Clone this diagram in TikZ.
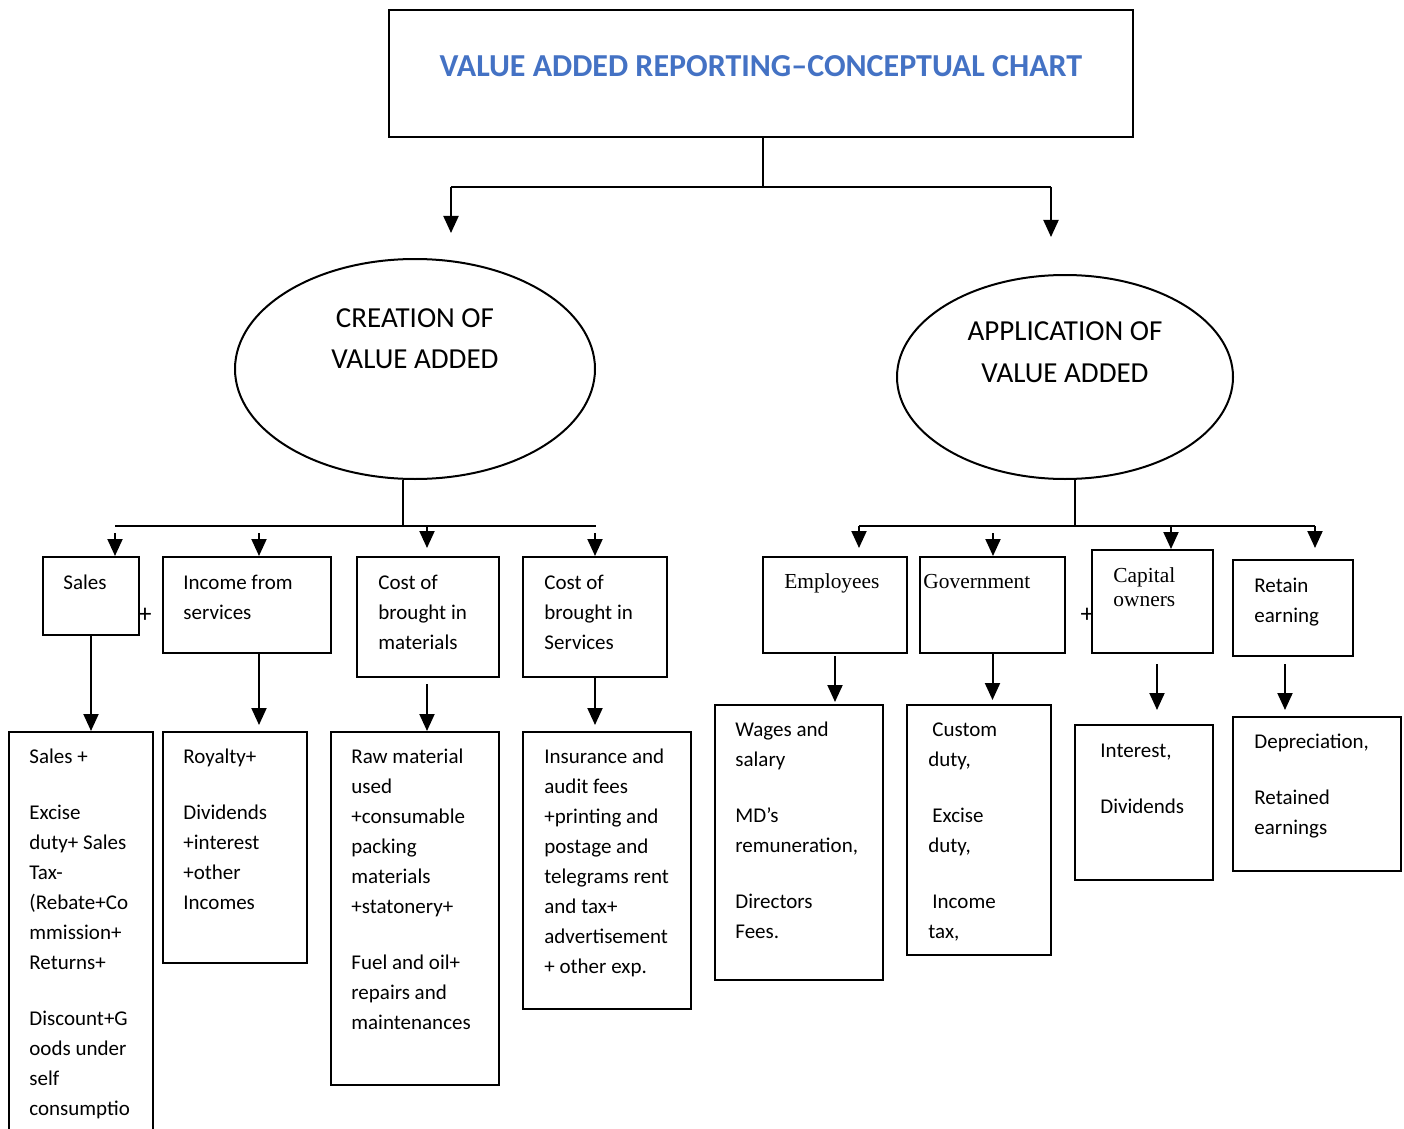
\documentclass[tikz,border=0pt]{standalone}
\usepackage{fontspec}
\setmainfont{Carlito}
\newfontfamily\serifT{Liberation Serif}
\usetikzlibrary{shapes.geometric,arrows.meta,fit}
\definecolor{titleblue}{HTML}{4472C4}
\tikzset{
  bx/.style={draw, line width=1pt, inner sep=0pt, fit={#1}},
  ell/.style={draw, ellipse, line width=1pt, inner sep=0pt},
  ln/.style={line width=1pt},
  arr/.style={line width=1pt, -{Triangle[length=8.5pt,width=7.5pt]}},
  txt/.style={anchor=base west, inner sep=0pt, align=left, font=\fontsize{10.5}{15}\selectfont},
  srf/.style={anchor=base west, inner sep=0pt, align=left, font=\serifT\fontsize{10.7}{12.3}\selectfont},
  big/.style={anchor=base, inner sep=0pt, align=center, font=\fontsize{14.5}{20.5}\selectfont},
  pl/.style={inner sep=0pt, font=\fontsize{13}{14}\selectfont}
}
\begin{document}
\begin{tikzpicture}[x=0.5pt,y=-0.5pt]
\useasboundingbox (0,0) rectangle (1404,1129);

% title
\node[bx={(389,10)(1133,137)}, line width=1.2pt] (title) {};
\node[anchor=base, inner sep=0pt, font=\bfseries\fontsize{16}{19}\selectfont, text=titleblue] (titleT) at (761,77) {VALUE ADDED REPORTING–CONCEPTUAL CHART};

\coordinate (tj) at (763,187);
\coordinate (bl) at (451,187);
\coordinate (br) at (1051,187);
\coordinate (blE) at (451,233);
\coordinate (brE) at (1051,237);
\draw[ln] (title.south -| tj) -- (tj);
\draw[ln] (bl) -- (br);
\draw[arr] (bl) -- (blE);
\draw[arr] (br) -- (brE);

% ellipses
\node[ell, minimum width=180pt, minimum height=110pt] (cre) at (415,369) {};
\node[big] (creT) at (415,368) {CREATION OF\\VALUE ADDED};
\node[ell, minimum width=168pt, minimum height=102pt] (app) at (1065,377) {};
\node[big, font=\fontsize{14.5}{21}\selectfont] (appT) at (1065,382) {APPLICATION OF\\VALUE ADDED};

% left tree
\coordinate (lj) at (403,526);
\coordinate (lb1) at (115,526);
\coordinate (lb4) at (596,526);
\coordinate (t1) at (115,533);
\coordinate (t2) at (259,533);
\coordinate (t3) at (427,526);
\coordinate (t4) at (595,533);
\draw[ln] (cre.south -| lj) -- (lj);
\draw[ln] (lb1) -- (lb4);

\node[bx={(43,557)(139,635)}] (sales) {};
\node[bx={(163,557)(331,653)}] (income) {};
\node[bx={(357,557)(499,677)}] (mat) {};
\node[bx={(523,557)(667,677)}] (serv) {};

\draw[arr] (t1) -- (t1 |- sales.north);
\draw[arr] (t2) -- (t2 |- income.north);
\draw[arr] (t3) -- (t3 |- mat.north) [shorten >=4pt];
\draw[arr] (t4) -- (t4 |- serv.north);

\node[txt] (salesT) at (63,589) {Sales};
\node[pl] (plus1) at (145,615) {+};
\node[txt] (incomeT) at (183,619) {Income from\\services};
\node[txt] (matT) at (378,649) {Cost of\\brought in\\materials};
\node[txt] (servT) at (544,649) {Cost of\\brought in\\Services};

\node[bx={(9,732)(153,1140)}] (salesD) {};
\node[bx={(163,732)(307,963)}] (royD) {};
\node[bx={(331,732)(499,1085)}] (rawD) {};
\node[bx={(523,732)(691,1009)}] (insD) {};

\draw[arr] (sales.south) -- (sales.south |- salesD.north);
\draw[arr] (income.south -| t2) -- (t2 |- royD.north) [shorten >=3pt];
\draw[arr] (mat.south -| t3) -- (t3 |- rawD.north) [shorten <=3pt];
\draw[arr] (serv.south -| t4) -- (t4 |- insD.north) [shorten >=3pt];

\node[txt] (salesDT) at (29,1115) {Sales +\\[13pt]Excise\\duty+ Sales\\Tax-\\(Rebate+Co\\mmission+\\Returns+\\[13pt]Discount+G\\oods under\\self\\consumptio};
\node[txt] (royDT) at (183,909) {Royalty+\\[13pt]Dividends\\+interest\\+other\\Incomes};
\node[txt] (rawDT) at (351,1029) {Raw material\\used\\+consumable\\packing\\materials\\+statonery+\\[13pt]Fuel and oil+\\repairs and\\maintenances};
\node[txt] (insDT) at (544,973) {Insurance and\\audit fees\\+printing and\\postage and\\telegrams rent\\and tax+\\advertisement\\+ other exp.};

% right tree
\coordinate (rj) at (1075,526);
\coordinate (rb1) at (859,526);
\coordinate (rb4) at (1315,526);
\coordinate (r2) at (993,533);
\coordinate (r3) at (1171,526);
\draw[ln] (app.south -| rj) -- (rj);
\draw[ln] (rb1) -- (rb4);

\node[bx={(763,557)(907,653)}] (emp) {};
\node[bx={(920,557)(1065,653)}] (gov) {};
\node[bx={(1092,550)(1213,653)}] (cap) {};
\node[bx={(1233,560)(1353,656)}] (ret) {};

\draw[arr] (rb1) -- (rb1 |- emp.north) [shorten >=4pt];
\draw[arr] (r2) -- (r2 |- gov.north);
\draw[arr] (r3) -- (r3 |- cap.north);
\draw[arr] (rb4) -- (rb4 |- ret.north) [shorten >=5.5pt];

\node[srf] (empT) at (784,588) {Employees};
\node[srf] (govT) at (923,588) {Government};
\node[pl] (plus2) at (1087,615) {+};
\node[srf] (capT) at (1113,606.6) {Capital\\owners};
\node[txt] (retT) at (1254,622) {Retain\\earning};

\node[bx={(715,705)(883,980)}] (wagD) {};
\node[bx={(907,705)(1051,955)}] (custD) {};
\node[bx={(1075,725)(1213,880)}] (intD) {};
\node[bx={(1233,717)(1401,871)}] (depD) {};

\coordinate (ca) at (1157,653);
\coordinate (ra) at (1285,656);
\draw[arr] (emp.south) -- (emp.south |- wagD.north) [shorten <=1pt, shorten >=1pt];
\draw[arr] (gov.south) -- (gov.south |- custD.north) [shorten >=2pt];
\draw[arr] (ca) -- (ca |- intD.north) [shorten <=5.5pt, shorten >=7pt];
\draw[arr] (ra) -- (ra |- depD.north) [shorten <=4pt, shorten >=3pt];

\node[txt] (wagDT) at (735,938) {Wages and\\salary\\[13pt]MD’s\\remuneration,\\[13pt]Directors\\Fees.};
\node[txt] (custDT) at (928,938) {\hspace*{2pt}Custom\\duty,\\[13pt]\hspace*{2pt}Excise\\duty,\\[13pt]\hspace*{2pt}Income\\tax,};
\node[txt] (intDT) at (1100,813) {Interest,\\[13pt]Dividends};
\node[txt] (depDT) at (1254,834) {Depreciation,\\[13pt]Retained\\earnings};
\end{tikzpicture}
\end{document}
